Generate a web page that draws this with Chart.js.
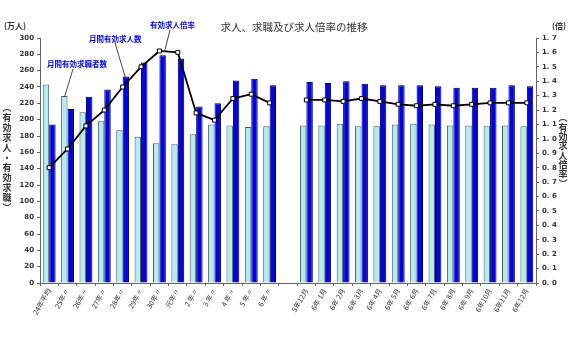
<!DOCTYPE html>
<html>
<head>
<meta charset="utf-8">
<script src="https://cdn.jsdelivr.net/npm/chart.js@4/dist/chart.umd.min.js"></script>
<style>
  body { margin: 0; background: #fff; }
  #wrap { width: 580px; height: 360px; }
</style>
</head>
<body>
<div id="wrap"><canvas id="chart"></canvas></div>
<script>
// categories: annual averages, an empty slot, then monthly
const labels = [
  '24年平均', '25年〃', '26年〃', '27年〃', '28年〃', '29年〃', '30年〃', '元年〃',
  '2 年〃', '3 年〃', '4 年〃', '5 年〃', '6 年〃',
  '',
  '5年12月', '6年 1月', '6年 2月', '6年 3月', '6年 4月', '6年 5月', '6年 6月',
  '6年 7月', '6年 8月', '6年 9月', '6年10月', '6年11月', '6年12月'
];

// 月間有効求職者数 (万人)
const seekers = [
  243, 229, 209, 198, 187, 179, 171, 170, 182, 194, 193, 191, 192,
  null,
  193, 193, 195, 192, 192, 194, 195, 194, 193, 193, 192, 193, 192
];

// 月間有効求人数 (万人)
const openings = [
  194, 213, 228, 237, 253, 270, 279, 275, 216, 220, 248, 250, 242,
  null,
  246, 245, 247, 244, 242, 242, 242, 241, 239, 239, 239, 242, 241
];

// 有効求人倍率 (倍)
const ratio = [
  0.80, 0.93, 1.09, 1.20, 1.36, 1.50, 1.61, 1.60, 1.18, 1.13, 1.28, 1.31, 1.25,
  null,
  1.27, 1.27, 1.26, 1.28, 1.26, 1.24, 1.23, 1.24, 1.23, 1.24, 1.25, 1.25, 1.25
];

const cjk = '"Noto Sans CJK JP", "Noto Sans", sans-serif';

// vertical text helper (one character per line)
function drawVertical(ctx, text, x, y, step) {
  for (let i = 0; i < text.length; i++) {
    ctx.fillText(text[i], x, y + i * step);
  }
}

const decorPlugin = {
  id: 'decor',
  afterDraw(chart) {
    const ctx = chart.ctx;
    const xs = chart.scales.x;
    const yl = chart.scales.y;
    const yr = chart.scales.y1;
    ctx.save();

    // title and units
    ctx.fillStyle = '#333';
    ctx.textBaseline = 'middle';
    ctx.textAlign = 'center';
    ctx.font = '10.5px ' + cjk;
    ctx.fillText('求人、求職及び求人倍率の推移', 294, 27);
    ctx.font = 'bold 8px ' + cjk;
    ctx.fillText('(万人)', 15, 26);
    ctx.fillText('(倍)', 559, 26);

    // axis titles, written vertically
    ctx.font = 'bold 9px ' + cjk;
    drawVertical(ctx, '︵有効求人・有効求職︶', 7, 108, 10);
    drawVertical(ctx, '︵有効求人倍率︶', 563, 118, 9.3);

    // callouts
    ctx.fillStyle = '#0000ff';
    ctx.font = 'bold 7.5px ' + cjk;
    ctx.textAlign = 'left';
    ctx.fillText('有効求人倍率', 150, 25);
    ctx.fillText('月間有効求人数', 89, 39);
    ctx.fillText('月間有効求職者数', 47, 64);

    ctx.strokeStyle = '#444';
    ctx.lineWidth = 1;
    const leader = (x0, y0, x1, y1) => {
      ctx.beginPath();
      ctx.moveTo(x0, y0);
      ctx.lineTo(x1, y1);
      ctx.stroke();
    };
    leader(170, 30, xs.getPixelForValue(6) + 5, yr.getPixelForValue(1.61) + 1);
    leader(115, 43, xs.getPixelForValue(4) + 3, yl.getPixelForValue(openings[4]) + 2);
    leader(73, 69, xs.getPixelForValue(1) - 3, yl.getPixelForValue(seekers[1]) + 1);

    ctx.restore();
  }
};

const tickFont = { size: 7, family: '"DejaVu Sans", sans-serif', weight: 'bold' };

new Chart(document.getElementById('chart'), {
  type: 'bar',
  data: {
    labels: labels,
    datasets: [
      {
        type: 'line',
        label: '有効求人倍率',
        data: ratio,
        yAxisID: 'y1',
        borderColor: '#000',
        borderWidth: 1.8,
        pointStyle: 'rect',
        pointRadius: 2.8,
        pointBackgroundColor: '#fff',
        pointBorderColor: '#000',
        pointBorderWidth: 1,
        spanGaps: false,
        order: 0
      },
      {
        label: '月間有効求職者数',
        data: seekers,
        yAxisID: 'y',
        backgroundColor: '#aeeeee',
        borderColor: '#555',
        borderWidth: 1,
        categoryPercentage: 0.7,
        barPercentage: 1.0,
        order: 1
      },
      {
        label: '月間有効求人数',
        data: openings,
        yAxisID: 'y',
        backgroundColor: '#0000ff',
        borderColor: '#000',
        borderWidth: 1,
        categoryPercentage: 0.7,
        barPercentage: 1.0,
        order: 1
      }
    ]
  },
  options: {
    responsive: true,
    maintainAspectRatio: false,
    animation: false,
    layout: { padding: { top: 38, left: 0, right: 0, bottom: 0 } },
    plugins: {
      legend: { display: false },
      tooltip: { enabled: false }
    },
    scales: {
      x: {
        grid: { display: true, drawOnChartArea: false, tickLength: 3, color: '#666' },
        border: { color: '#666' },
        ticks: {
          font: { size: 7, family: cjk },
          color: '#333',
          minRotation: 60,
          maxRotation: 60,
          autoSkip: false,
          padding: 1
        },
        afterFit(scale) { scale.height = 77; }
      },
      y: {
        position: 'left',
        min: 0,
        max: 300,
        grid: { display: true, drawOnChartArea: false, tickLength: 3, color: '#666' },
        border: { color: '#666' },
        ticks: { stepSize: 20, font: tickFont, color: '#333', padding: 3 },
        afterFit(scale) { scale.width = 40; }
      },
      y1: {
        position: 'right',
        min: 0,
        max: 1.7,
        grid: { display: true, drawOnChartArea: false, tickLength: 3, color: '#666' },
        border: { color: '#666' },
        ticks: {
          stepSize: 0.1,
          font: tickFont,
          color: '#333',
          padding: 3,
          callback: v => v.toFixed(1).replace('.', '. ')
        },
        afterFit(scale) { scale.width = 44; }
      }
    }
  },
  plugins: [decorPlugin]
});
</script>
</body>
</html>
